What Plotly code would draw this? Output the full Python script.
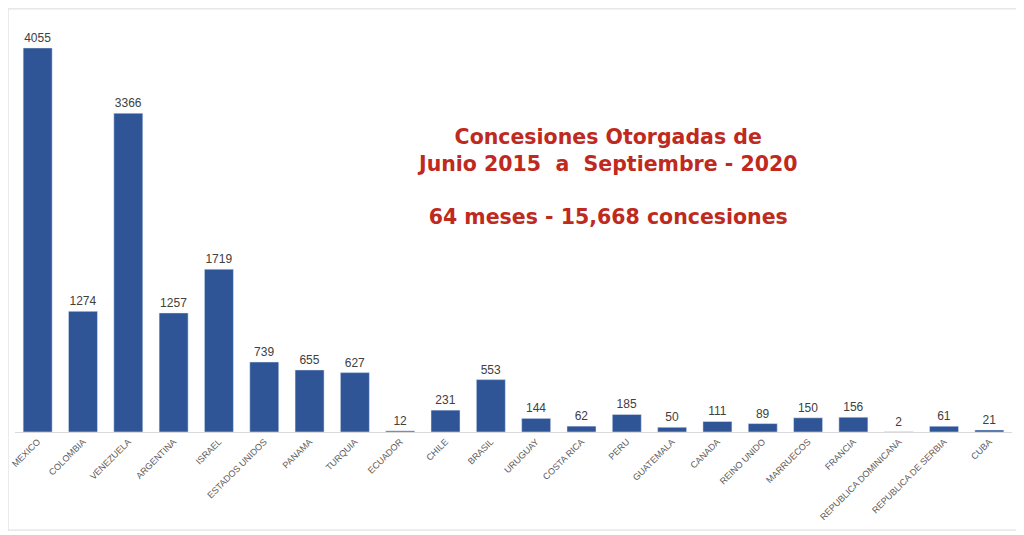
import plotly.graph_objects as go

paises = ['MEXICO', 'COLOMBIA', 'VENEZUELA', 'ARGENTINA', 'ISRAEL', 'ESTADOS UNIDOS',
          'PANAMA', 'TURQUIA', 'ECUADOR', 'CHILE', 'BRASIL', 'URUGUAY', 'COSTA RICA',
          'PERU', 'GUATEMALA', 'CANADA', 'REINO UNIDO', 'MARRUECOS', 'FRANCIA',
          'REPUBLICA DOMINICANA', 'REPUBLICA DE SERBIA', 'CUBA']
concesiones = [4055, 1274, 3366, 1257, 1719, 739, 655, 627, 12, 231, 553, 144, 62,
               185, 50, 111, 89, 150, 156, 2, 61, 21]

titulo = ('<b>Concesiones Otorgadas de<br>Junio 2015  a  Septiembre - 2020<br><br>'
          '64 meses - 15,668 concesiones</b>')

fig = go.Figure(go.Bar(
    x=paises,
    y=concesiones,
    marker_color='#2F5597',
    text=concesiones,
    textposition='outside',
    textfont=dict(color='#404040', size=12),
    cliponaxis=False,
))

fig.add_annotation(
    text=titulo, xref='paper', yref='paper', x=0.594, y=0.75,
    xanchor='center', yanchor='top', showarrow=False,
    font=dict(family='DejaVu Sans', size=20.5, color='#BF2A20'),
)

# marco del grafico
fig.add_shape(type='rect', xref='paper', yref='paper',
              x0=-0.007, x1=1.008, y0=-0.238, y1=1.027,
              line=dict(color='#d9d9d9', width=1))

# la pagina tiene 8px de margen, se compensa en los margenes
fig.update_layout(
    width=1024, height=535,
    margin=dict(l=7, r=20, t=12, b=111, autoexpand=False),
    paper_bgcolor='white', plot_bgcolor='white',
    bargap=0.36,
    showlegend=False,
    font=dict(family='Liberation Sans'),
)
fig.update_xaxes(tickangle=-45, tickfont=dict(size=9, color='#595959'),
                 showline=True, linecolor='#d9d9d9', ticks='', automargin=False)
fig.update_yaxes(range=[0, 4350], visible=False, automargin=False)

fig.write_html('out.html')
